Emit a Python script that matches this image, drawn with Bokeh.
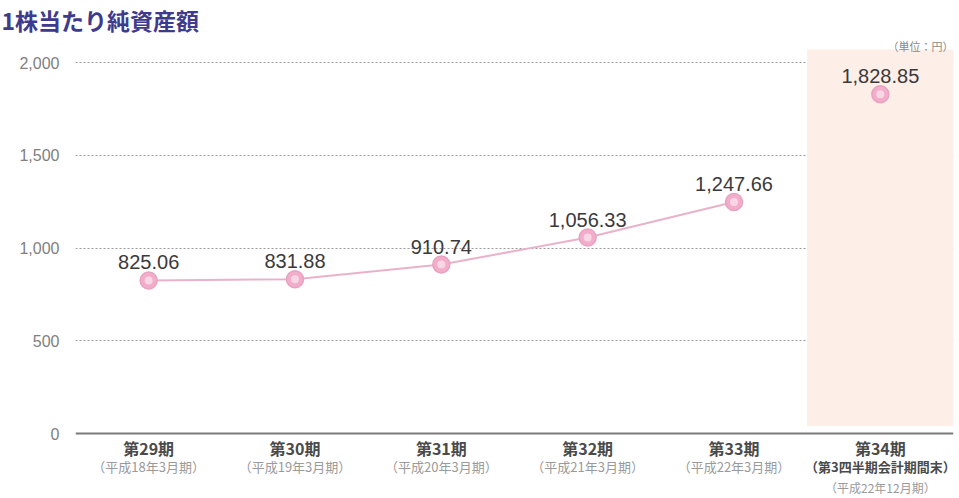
from bokeh.plotting import figure
from bokeh.models import Range1d, FixedTicker, NumeralTickFormatter, Span, BoxAnnotation, Label, Title
from bokeh.core.properties import value
from bokeh.embed import file_html
from bokeh.resources import INLINE

periods = ["第29期", "第30期", "第31期", "第32期", "第33期", "第34期"]
sub1 = ["（平成18年3月期）", "（平成19年3月期）", "（平成20年3月期）", "（平成21年3月期）", "（平成22年3月期）", "（第3四半期会計期間末）"]
sub2 = ["", "", "", "", "", "（平成22年12月期）"]
values = [825.06, 831.88, 910.74, 1056.33, 1247.66, 1828.85]
yticks = [0, 500, 1000, 1500, 2000]
title_text = "1株当たり純資産額"
unit_text = "（単位：円）"

xs = list(range(len(periods)))
labels = [f"{v:,.2f}" for v in values]

# frame: top at 36px, bottom at 498px; y=0 at 433px, y=2000 at 62px
frame_top = 36
ppu = 371 / 2000.0
y_top = 2000 + (62 - frame_top) / ppu
y_bot = -(498 - 433) / ppu

p = figure(width=959, height=498, output_backend="svg", toolbar_location=None,
           x_range=Range1d(-0.5, 5.5), y_range=Range1d(y_bot, y_top),
           min_border_left=75, min_border_right=6, min_border_top=frame_top, min_border_bottom=0,
           title=Title(text=title_text, align="left", offset=-74, standoff=0,
                       text_font="Noto Sans CJK JP", text_font_size="23px", text_font_style="bold",
                       text_color="#3e3a8c"))
p.outline_line_color = None
p.xaxis.visible = False
p.xgrid.visible = False
p.background_fill_color = "white"

ax = p.yaxis[0]
ax.ticker = FixedTicker(ticks=yticks)
ax.formatter = NumeralTickFormatter(format="0,0")
ax.axis_line_color = None
ax.major_tick_line_color = None
ax.minor_tick_line_color = None
ax.major_label_standoff = 10
ax.major_label_text_font = "Liberation Sans"
ax.major_label_text_font_size = "16px"
ax.major_label_text_color = "#808080"

p.ygrid.ticker = FixedTicker(ticks=yticks[1:])
p.ygrid.grid_line_color = "#9a9a9a"
p.ygrid.grid_line_dash = "2 2"
p.ygrid.grid_line_width = 1

band = BoxAnnotation(left=xs[-1] - 0.5, right=xs[-1] + 0.5, bottom=40, top=2070,
                     fill_color="#fdeee8", fill_alpha=1.0, line_color=None, level="underlay")
p.add_layout(band)

p.add_layout(Span(location=0, dimension="width", line_color="#7a7a7a", line_width=2))

p.line(xs[:-1], values[:-1], line_color="#eab2ca", line_width=2)
p.scatter(xs, values, size=17, fill_color="#f1adc9", line_color="#e9a3c1", line_width=1.5)
p.scatter(xs, values, size=8, fill_color="#f9d6e5", line_color=None)

p.text(x=xs, y=values, text=labels, text_align="center", text_baseline="bottom",
       y_offset=-11, text_font=value("Liberation Sans"), text_font_size="20px", text_color="#3a3a3a")

p.text(x=xs, y=[0] * len(xs), text=periods, text_align="center", text_baseline="middle",
       y_offset=14, text_font=value("Noto Sans CJK JP"), text_font_size="16px", text_color="#4a4a4a",
       text_font_style="bold")
sub1_colors = ["#9a9a9a"] * 5 + ["#4a4a4a"]
sub1_styles = ["normal"] * 5 + ["bold"]
p.text(x=xs, y=[0] * len(xs), text=sub1, text_align="center", text_baseline="middle",
       y_offset=33, text_font=value("Noto Sans CJK JP"), text_font_size="13px", text_color=sub1_colors,
       text_font_style=sub1_styles)
p.text(x=xs, y=[0] * len(xs), text=sub2, text_align="center", text_baseline="middle",
       y_offset=54, text_font=value("Noto Sans CJK JP"), text_font_size="12px", text_color="#9a9a9a")

p.add_layout(Label(x=953, y=frame_top + 1, x_units="canvas", y_units="canvas", text=unit_text,
                   text_font="Noto Sans CJK JP", text_font_size="11px",
                   text_color="#8a8a8a", text_baseline="top", text_align="right"))

open("out.html", "w").write(file_html(p, INLINE))
